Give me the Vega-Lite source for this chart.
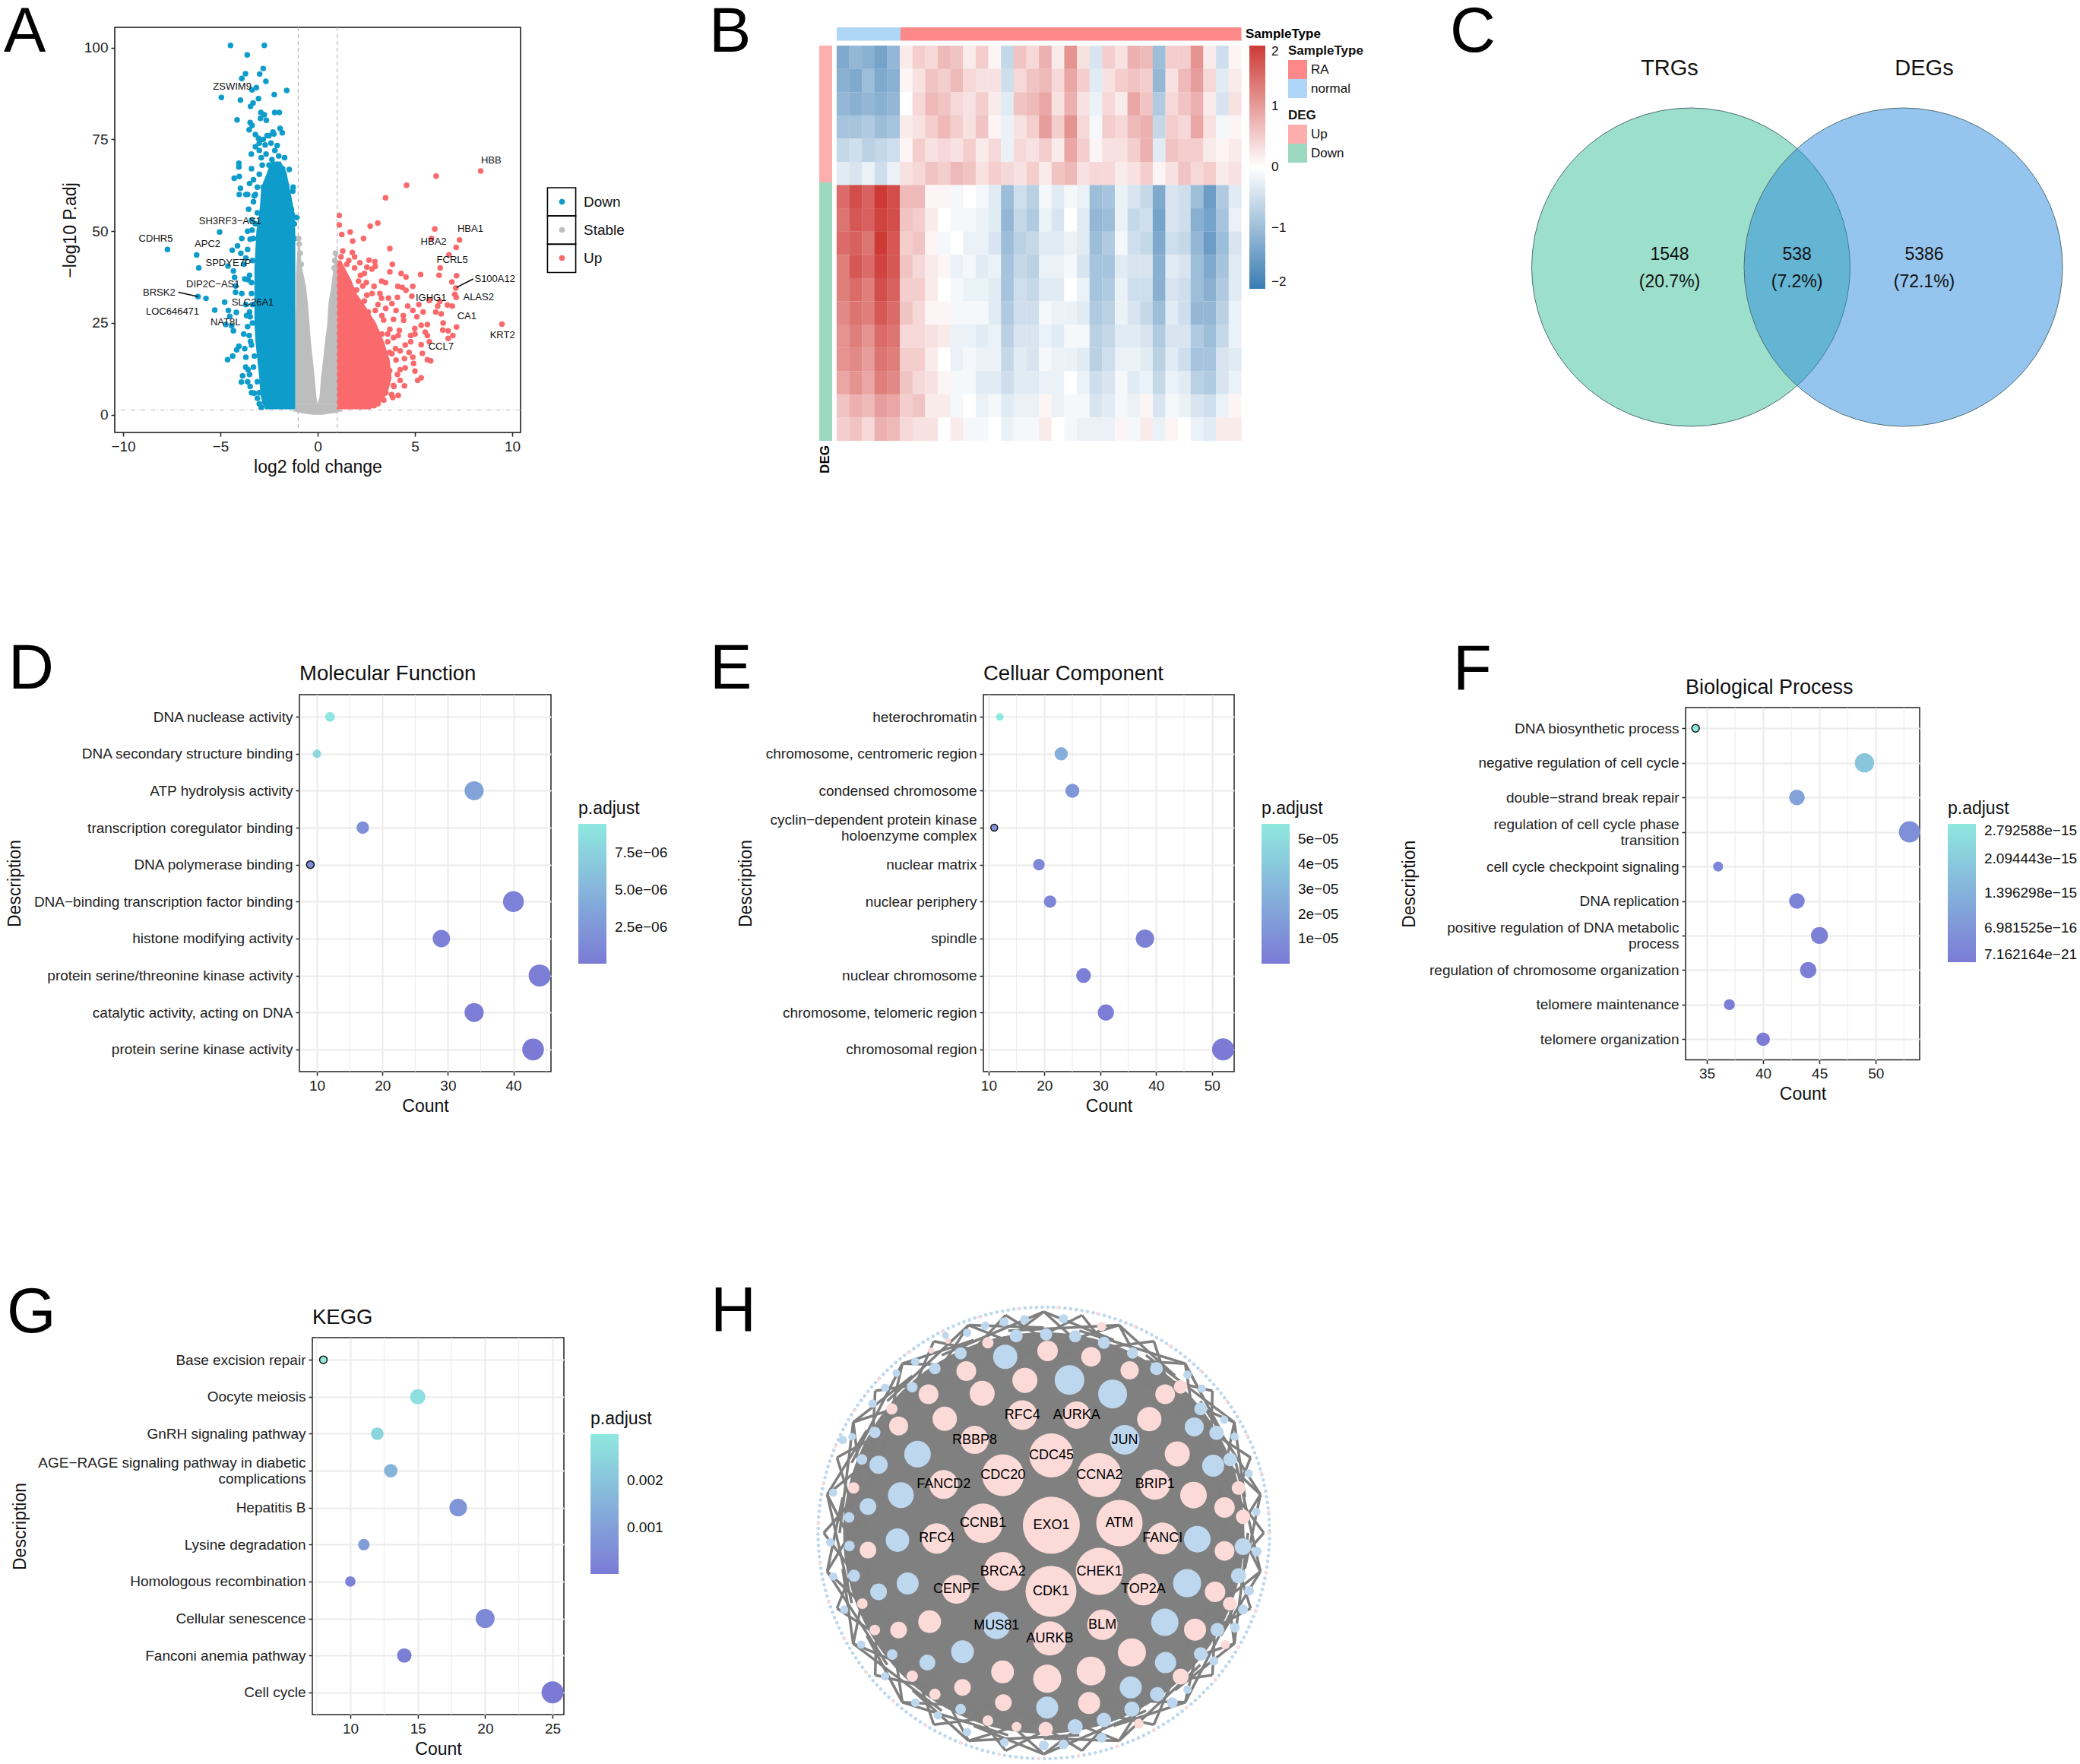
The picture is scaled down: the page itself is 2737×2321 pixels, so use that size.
{"$schema":"https://vega.github.io/schema/vega-lite/v6.json","background":"white","padding":0,"autosize":{"type":"pad"},"bounds":"flush","spacing":0,
"resolve":{"scale":{"color":"independent","size":"independent"},"legend":{"color":"independent","size":"independent"}},
"config":{"font":"Liberation Sans","view":{"stroke":null},"axis":{"domain":false,"grid":false,"tickColor":"#222","tickWidth":1.5,"tickSize":5,"labelColor":"#222","labelFontSize":19,"titleFontSize":23,"titleFontWeight":"normal","titleColor":"#111","labelPadding":4,"titlePadding":6,"labelLimit":700,"labelLineHeight":21},"legend":{"labelFontSize":19,"labelColor":"#111","titleFontSize":23,"titleFontWeight":"normal","titleColor":"#111"}},
"datasets":{"nodes":[
{"x":853,"y":440,"d":39,"g":"Up","t":"RFC4"},{"x":997,"y":440,"d":36,"g":"Up","t":"AURKA"},{"x":727,"y":520,"d":37,"g":"Up","t":"RBBP8"},{"x":1124,"y":520,"d":39,"g":"Down","t":"JUN"},{"x":930,"y":570,"d":58,"g":"Up","t":"CDC45"},{"x":802,"y":634,"d":55,"g":"Up","t":"CDC20"},{"x":1057,"y":634,"d":58,"g":"Up","t":"CCNA2"},{"x":645,"y":664,"d":38,"g":"Up","t":"FANCD2"},{"x":1204,"y":664,"d":40,"g":"Up","t":"BRIP1"},{"x":930,"y":795,"d":75,"g":"Up","t":"EXO1"},{"x":1110,"y":788,"d":61,"g":"Up","t":"ATM"},{"x":749,"y":789,"d":52,"g":"Up","t":"CCNB1"},{"x":627,"y":838,"d":40,"g":"Up","t":"RFC4"},{"x":1224,"y":838,"d":42,"g":"Up","t":"FANCI"},{"x":1057,"y":944,"d":62,"g":"Up","t":"CHEK1"},{"x":802,"y":944,"d":51,"g":"Up","t":"BRCA2"},{"x":929,"y":1008,"d":67,"g":"Up","t":"CDK1"},{"x":679,"y":1002,"d":38,"g":"Up","t":"CENPF"},{"x":1173,"y":1002,"d":42,"g":"Up","t":"TOP2A"},{"x":785,"y":1118,"d":36,"g":"Down","t":"MUS81"},{"x":1065,"y":1116,"d":40,"g":"Up","t":"BLM"},{"x":926,"y":1160,"d":45,"g":"Up","t":"AURKB"},
{"x":860,"y":328,"d":33,"g":"Up"},{"x":747,"y":370,"d":33,"g":"Up"},{"x":648,"y":452,"d":32,"g":"Up"},{"x":605,"y":373,"d":26,"g":"Up"},{"x":705,"y":298,"d":26,"g":"Up"},{"x":920,"y":233,"d":27,"g":"Up"},{"x":1035,"y":252,"d":26,"g":"Up"},{"x":1137,"y":296,"d":24,"g":"Up"},{"x":1231,"y":373,"d":26,"g":"Up"},{"x":1189,"y":453,"d":32,"g":"Up"},{"x":1263,"y":565,"d":33,"g":"Up"},{"x":1306,"y":698,"d":35,"g":"Up"},{"x":1388,"y":738,"d":27,"g":"Up"},{"x":1388,"y":878,"d":26,"g":"Up"},{"x":1363,"y":1010,"d":27,"g":"Up"},{"x":1310,"y":1132,"d":29,"g":"Up"},{"x":1143,"y":1205,"d":37,"g":"Up"},{"x":1035,"y":1265,"d":38,"g":"Up"},{"x":919,"y":1290,"d":37,"g":"Up"},{"x":801,"y":1268,"d":30,"g":"Up"},{"x":608,"y":1106,"d":30,"g":"Up"},{"x":526,"y":1133,"d":22,"g":"Up"},{"x":1030,"y":1368,"d":29,"g":"Up"},{"x":803,"y":1367,"d":22,"g":"Up"},{"x":695,"y":1318,"d":22,"g":"Up"},{"x":1272,"y":1283,"d":21,"g":"Up"},{"x":526,"y":475,"d":25,"g":"Up"},{"x":445,"y":875,"d":22,"g":"Up"},{"x":508,"y":420,"d":15,"g":"Up"},{"x":407,"y":675,"d":15,"g":"Up"},{"x":1272,"y":349,"d":18,"g":"Up"},{"x":1437,"y":768,"d":19,"g":"Up"},{"x":1425,"y":675,"d":18,"g":"Up"},{"x":1402,"y":1048,"d":18,"g":"Up"},{"x":1390,"y":1180,"d":12,"g":"Up"},{"x":1161,"y":1435,"d":13,"g":"Up"},{"x":915,"y":1452,"d":19,"g":"Up"},{"x":838,"y":1445,"d":13,"g":"Up"},{"x":762,"y":1425,"d":14,"g":"Up"},{"x":622,"y":1340,"d":15,"g":"Up"},{"x":562,"y":1282,"d":15,"g":"Up"},{"x":463,"y":1133,"d":14,"g":"Up"},{"x":430,"y":1048,"d":14,"g":"Up"},{"x":1063,"y":155,"d":12,"g":"Up"},{"x":762,"y":207,"d":15,"g":"Up"},{"x":612,"y":232,"d":8,"g":"Up"},{"x":656,"y":200,"d":8,"g":"Up"},
{"x":978,"y":327,"d":39,"g":"Down"},{"x":1092,"y":372,"d":38,"g":"Down"},{"x":808,"y":252,"d":32,"g":"Down"},{"x":1308,"y":478,"d":25,"g":"Down"},{"x":576,"y":566,"d":35,"g":"Down"},{"x":473,"y":600,"d":24,"g":"Down"},{"x":532,"y":698,"d":34,"g":"Down"},{"x":445,"y":735,"d":22,"g":"Down"},{"x":523,"y":843,"d":31,"g":"Down"},{"x":550,"y":983,"d":29,"g":"Down"},{"x":473,"y":1010,"d":22,"g":"Down"},{"x":395,"y":770,"d":14,"g":"Down"},{"x":396,"y":862,"d":14,"g":"Down"},{"x":408,"y":958,"d":16,"g":"Down"},{"x":695,"y":1203,"d":30,"g":"Down"},{"x":602,"y":1238,"d":21,"g":"Down"},{"x":509,"y":1212,"d":14,"g":"Down"},{"x":1316,"y":840,"d":35,"g":"Down"},{"x":1289,"y":982,"d":37,"g":"Down"},{"x":1230,"y":1108,"d":36,"g":"Down"},{"x":1232,"y":1238,"d":28,"g":"Down"},{"x":1140,"y":1318,"d":29,"g":"Down"},{"x":1210,"y":1340,"d":19,"g":"Down"},{"x":1143,"y":1388,"d":20,"g":"Down"},{"x":919,"y":1383,"d":29,"g":"Down"},{"x":993,"y":1445,"d":20,"g":"Down"},{"x":1069,"y":1423,"d":19,"g":"Down"},{"x":690,"y":1388,"d":14,"g":"Down"},{"x":837,"y":185,"d":17,"g":"Down"},{"x":916,"y":180,"d":16,"g":"Down"},{"x":859,"y":132,"d":12,"g":"Down"},{"x":962,"y":130,"d":12,"g":"Down"},{"x":993,"y":186,"d":16,"g":"Down"},{"x":1069,"y":207,"d":16,"g":"Down"},{"x":1145,"y":240,"d":15,"g":"Down"},{"x":1208,"y":290,"d":17,"g":"Down"},{"x":1325,"y":420,"d":17,"g":"Down"},{"x":1367,"y":497,"d":19,"g":"Down"},{"x":1358,"y":603,"d":29,"g":"Down"},{"x":1403,"y":583,"d":18,"g":"Down"},{"x":1437,"y":864,"d":22,"g":"Down"},{"x":1425,"y":958,"d":20,"g":"Down"},{"x":1369,"y":1132,"d":18,"g":"Down"},{"x":1325,"y":1210,"d":18,"g":"Down"},{"x":1250,"y":1367,"d":14,"g":"Down"},{"x":690,"y":241,"d":16,"g":"Down"},{"x":622,"y":290,"d":15,"g":"Down"},{"x":562,"y":350,"d":14,"g":"Down"},{"x":463,"y":496,"d":15,"g":"Down"},{"x":429,"y":583,"d":14,"g":"Down"},{"x":1473,"y":880,"d":13,"g":"Down"},{"x":1453,"y":1006,"d":13,"g":"Down"},{"x":1437,"y":1067,"d":13,"g":"Down"},{"x":1415,"y":1125,"d":13,"g":"Down"},{"x":1360,"y":1233,"d":12,"g":"Down"},{"x":1290,"y":1325,"d":11,"g":"Down"},{"x":1290,"y":310,"d":11,"g":"Down"},{"x":1328,"y":355,"d":11,"g":"Down"},{"x":1387,"y":455,"d":11,"g":"Down"},{"x":1415,"y":510,"d":11,"g":"Down"},{"x":1452,"y":628,"d":11,"g":"Down"},{"x":1472,"y":752,"d":11,"g":"Down"},{"x":1063,"y":1480,"d":13,"g":"Down"},{"x":910,"y":1505,"d":13,"g":"Down"},{"x":962,"y":1502,"d":13,"g":"Down"},{"x":806,"y":1495,"d":11,"g":"Down"},{"x":707,"y":1462,"d":11,"g":"Down"},{"x":630,"y":1408,"d":11,"g":"Down"},{"x":570,"y":1367,"d":11,"g":"Down"},{"x":490,"y":1282,"d":11,"g":"Down"},{"x":427,"y":1180,"d":11,"g":"Down"},{"x":382,"y":1067,"d":11,"g":"Down"},{"x":353,"y":960,"d":11,"g":"Down"},{"x":345,"y":850,"d":11,"g":"Down"},{"x":353,"y":690,"d":11,"g":"Down"},{"x":378,"y":520,"d":11,"g":"Down"},{"x":403,"y":510,"d":10,"g":"Down"},{"x":457,"y":403,"d":11,"g":"Down"},{"x":490,"y":352,"d":11,"g":"Down"},{"x":520,"y":305,"d":10,"g":"Down"},{"x":570,"y":268,"d":11,"g":"Down"},{"x":650,"y":183,"d":9,"g":"Down"},{"x":707,"y":175,"d":11,"g":"Down"},{"x":755,"y":152,"d":11,"g":"Down"},{"x":805,"y":140,"d":12,"g":"Down"}
]},
"vconcat":[
{"width":1,"height":35.5,"data":{"values":[{"a":0}]},"mark":{"type":"point","opacity":0,"size":0}},
{"bounds":"flush","spacing":0,"resolve":{"scale":{"color":"independent","size":"independent"},"legend":{"color":"independent","size":"independent"}},"hconcat":[
{"width":151,"height":1,"data":{"values":[{"a":0}]},"mark":{"type":"point","opacity":0,"size":0}},
{"width":534,"height":533,"view":{"stroke":"#111","strokeWidth":1.5},"layer":[
{"data":{"values":[{"x":-0.25,"x2":0.25,"y":0,"w":"b"},{"x":-0.85,"x2":0.85,"y":0.5,"w":"b"},{"x":-1.3,"x2":1.3,"y":1,"w":"b"},{"x":-1.15,"x2":1.15,"y":1.5,"w":"b"},{"x":-1.15,"x2":1.15,"y":3,"w":"b"},{"x":-1.15,"x2":0,"y":3,"w":"l"},{"x":-1.15,"x2":-0.07,"y":5,"w":"l"},{"x":-1.15,"x2":-0.15,"y":10,"w":"l"},{"x":-1.15,"x2":-0.25,"y":15,"w":"l"},{"x":-1.15,"x2":-0.35,"y":20,"w":"l"},{"x":-1.15,"x2":-0.42,"y":25,"w":"l"},{"x":-1.12,"x2":-0.5,"y":30,"w":"l"},{"x":-1.12,"x2":-0.6,"y":35,"w":"l"},{"x":-1.1,"x2":-0.8,"y":40,"w":"l"},{"x":-1.05,"x2":-0.88,"y":44,"w":"l"},{"x":-0.98,"x2":-0.93,"y":48,"w":"l"},{"x":0,"x2":1.15,"y":3,"w":"r"},{"x":0.1,"x2":1.15,"y":5,"w":"r"},{"x":0.17,"x2":1.1,"y":10,"w":"r"},{"x":0.28,"x2":1.1,"y":15,"w":"r"},{"x":0.38,"x2":1.1,"y":20,"w":"r"},{"x":0.5,"x2":1.1,"y":25,"w":"r"},{"x":0.55,"x2":1.1,"y":30,"w":"r"},{"x":0.7,"x2":1.1,"y":35,"w":"r"},{"x":0.82,"x2":1.05,"y":40,"w":"r"},{"x":0.9,"x2":0.97,"y":44,"w":"r"}]},"mark":{"type":"area","orient":"horizontal","color":"#BDBDBD","interpolate":"linear"},"encoding":{"x":{"field":"x","type":"quantitative","scale":{"domain":[-10.43,10.43],"nice":false,"zero":false},"axis":{"values":[-10,-5,0,5,10],"title":"log2 fold change"}},"x2":{"field":"x2"},"y":{"field":"y","type":"quantitative","scale":{"domain":[-4.8,105.5],"nice":false,"zero":false},"axis":{"values":[0,25,50,75,100],"title":"−log10 P.adj"}},"detail":{"field":"w"}}},
{"data":{"values":[{"x":-2.7,"x2":-1.15,"y":1.5},{"x":-2.85,"x2":-1.15,"y":3},{"x":-2.95,"x2":-1.15,"y":6},{"x":-3,"x2":-1.15,"y":10},{"x":-3.1,"x2":-1.15,"y":15},{"x":-3.2,"x2":-1.15,"y":20},{"x":-3.25,"x2":-1.15,"y":25},{"x":-3.25,"x2":-1.15,"y":30},{"x":-3.25,"x2":-1.15,"y":35},{"x":-3.25,"x2":-1.15,"y":40},{"x":-3.2,"x2":-1.15,"y":45},{"x":-3.15,"x2":-1.15,"y":50},{"x":-3,"x2":-1.2,"y":55},{"x":-2.95,"x2":-1.3,"y":58},{"x":-2.9,"x2":-1.45,"y":62},{"x":-2.6,"x2":-1.6,"y":66},{"x":-2.4,"x2":-1.9,"y":69}]},"mark":{"type":"area","orient":"horizontal","color":"#0E9CCB"},"encoding":{"x":{"field":"x","type":"quantitative"},"x2":{"field":"x2"},"y":{"field":"y","type":"quantitative"}}},
{"data":{"values":[{"x":0.98,"x2":2.7,"y":1.5},{"x":0.98,"x2":3.2,"y":3},{"x":0.98,"x2":3.6,"y":6},{"x":0.98,"x2":3.8,"y":10},{"x":0.98,"x2":3.7,"y":15},{"x":0.98,"x2":3.4,"y":20},{"x":0.98,"x2":3,"y":25},{"x":0.98,"x2":2.4,"y":30},{"x":0.98,"x2":2,"y":33},{"x":0.98,"x2":1.7,"y":37},{"x":0.98,"x2":1.4,"y":40},{"x":1,"x2":1.2,"y":42}]},"mark":{"type":"area","orient":"horizontal","color":"#FA6A6C"},"encoding":{"x":{"field":"x","type":"quantitative"},"x2":{"field":"x2"},"y":{"field":"y","type":"quantitative"}}},
{"data":{"values":[{"x":-4.48,"y":100.6,"g":"Down"},{"x":-2.74,"y":100.6,"g":"Down"},{"x":-3.62,"y":98,"g":"Down"},{"x":-2.8,"y":94.3,"g":"Down"},{"x":-3.71,"y":92.9,"g":"Down"},{"x":-2.98,"y":92.8,"g":"Down"},{"x":-3.9,"y":91.6,"g":"Down"},{"x":-2.66,"y":90.8,"g":"Down"},{"x":-3.15,"y":89.1,"g":"Down"},{"x":-3.37,"y":88.5,"g":"Down"},{"x":-1.59,"y":88.3,"g":"Down"},{"x":-2.23,"y":87.2,"g":"Down"},{"x":-4.95,"y":86.4,"g":"Down"},{"x":-3.04,"y":86.1,"g":"Down"},{"x":-3.97,"y":85.7,"g":"Down"},{"x":-3.32,"y":84.9,"g":"Down"},{"x":-3.45,"y":84,"g":"Down"},{"x":-2.21,"y":82.3,"g":"Down"},{"x":-1.97,"y":82.3,"g":"Down"},{"x":-2.92,"y":82.3,"g":"Down"},{"x":-2.74,"y":81.7,"g":"Down"},{"x":-2.94,"y":80.7,"g":"Down"},{"x":-2.64,"y":80.2,"g":"Down"},{"x":-4.14,"y":80.3,"g":"Down"},{"x":-3.47,"y":79.6,"g":"Down"},{"x":-3.37,"y":78.8,"g":"Down"},{"x":-3.52,"y":77.6,"g":"Down"},{"x":-1.93,"y":78,"g":"Down"},{"x":-1.82,"y":76.8,"g":"Down"},{"x":-2.25,"y":76.5,"g":"Down"},{"x":-3.2,"y":76.3,"g":"Down"},{"x":-2.6,"y":76,"g":"Down"},{"x":-3.04,"y":75.3,"g":"Down"},{"x":-2.08,"y":73.3,"g":"Down"},{"x":-3.41,"y":71,"g":"Down"},{"x":-4.05,"y":68.5,"g":"Down"},{"x":-4.05,"y":67.5,"g":"Down"},{"x":-1.46,"y":66.8,"g":"Down"},{"x":-4.29,"y":64.4,"g":"Down"},{"x":-4.03,"y":64.9,"g":"Down"},{"x":-3.97,"y":61.7,"g":"Down"},{"x":-1.26,"y":62,"g":"Down"},{"x":-1.28,"y":60.9,"g":"Down"},{"x":-4.03,"y":60,"g":"Down"},{"x":-3.69,"y":60,"g":"Down"},{"x":-3.26,"y":59.6,"g":"Down"},{"x":-1.07,"y":53.7,"g":"Down"},{"x":-5.04,"y":49.8,"g":"Down"},{"x":-7.72,"y":45,"g":"Down"},{"x":-6.22,"y":43.5,"g":"Down"},{"x":-6.11,"y":40,"g":"Down"},{"x":-4.39,"y":44.8,"g":"Down"},{"x":-4.12,"y":46,"g":"Down"},{"x":-3.9,"y":48,"g":"Down"},{"x":-4.61,"y":40.5,"g":"Down"},{"x":-4.33,"y":39.2,"g":"Down"},{"x":-4.27,"y":37.4,"g":"Down"},{"x":-6.15,"y":32.2,"g":"Down"},{"x":-5.74,"y":31.7,"g":"Down"},{"x":-4.78,"y":30.7,"g":"Down"},{"x":-5.29,"y":28.5,"g":"Down"},{"x":-4.59,"y":28.4,"g":"Down"},{"x":-4.18,"y":27.9,"g":"Down"},{"x":-4.52,"y":26.8,"g":"Down"},{"x":-4.72,"y":24.6,"g":"Down"},{"x":-4.42,"y":24.2,"g":"Down"},{"x":-4.33,"y":22.9,"g":"Down"},{"x":-4.22,"y":35.1,"g":"Down"},{"x":-4.22,"y":33.4,"g":"Down"},{"x":-4.63,"y":15,"g":"Down"},{"x":-4.37,"y":16,"g":"Down"},{"x":-4.16,"y":17.7,"g":"Down"},{"x":-4.05,"y":18.7,"g":"Down"},{"x":-3.86,"y":10.6,"g":"Down"},{"x":-3.92,"y":8.9,"g":"Down"},{"x":-3.26,"y":5.9,"g":"Down"},{"x":-3.47,"y":7.7,"g":"Down"},{"x":-3.69,"y":15.7,"g":"Down"},{"x":-3.58,"y":12.3,"g":"Down"},{"x":-3.52,"y":21.6,"g":"Down"},{"x":-3.47,"y":26.7,"g":"Down"},{"x":-3.69,"y":30,"g":"Down"},{"x":-3.58,"y":36.8,"g":"Down"},{"x":-3.69,"y":42.7,"g":"Down"},{"x":-3.47,"y":47.8,"g":"Down"},{"x":-3.37,"y":50.3,"g":"Down"},{"x":-3.2,"y":73,"g":"Down"},{"x":-3,"y":72,"g":"Down"},{"x":-2.7,"y":73.5,"g":"Down"},{"x":-2.4,"y":74,"g":"Down"},{"x":-2.2,"y":72,"g":"Down"},{"x":-2,"y":70.5,"g":"Down"},{"x":-1.7,"y":70,"g":"Down"},{"x":-2.9,"y":70,"g":"Down"},{"x":-2.5,"y":68,"g":"Down"},{"x":-3.4,"y":67,"g":"Down"},{"x":-2.1,"y":66,"g":"Down"},{"x":-1.8,"y":67,"g":"Down"},{"x":-3,"y":65.5,"g":"Down"},{"x":-2.4,"y":64,"g":"Down"},{"x":-3.3,"y":64,"g":"Down"},{"x":-1.9,"y":64,"g":"Down"},{"x":-1.6,"y":62.5,"g":"Down"},{"x":-3.5,"y":63,"g":"Down"},{"x":-2.8,"y":62,"g":"Down"},{"x":-2.2,"y":61.5,"g":"Down"},{"x":-1.8,"y":60,"g":"Down"},{"x":-2.8,"y":75,"g":"Down"},{"x":-3,"y":74,"g":"Down"},{"x":-2.5,"y":76,"g":"Down"},{"x":-2.3,"y":77,"g":"Down"},{"x":-2.65,"y":71,"g":"Down"},{"x":-2.35,"y":69.5,"g":"Down"},{"x":-2.85,"y":68,"g":"Down"},{"x":-1.5,"y":58,"g":"Down"},{"x":-1.35,"y":56,"g":"Down"},{"x":-1.2,"y":52,"g":"Down"},{"x":-1.3,"y":54.5,"g":"Down"},{"x":-1.2,"y":48,"g":"Down"},{"x":-3.3,"y":58,"g":"Down"},{"x":-3.1,"y":55,"g":"Down"},{"x":-3.4,"y":53,"g":"Down"},{"x":-3.6,"y":45,"g":"Down"},{"x":-3.8,"y":41,"g":"Down"},{"x":-3.5,"y":38,"g":"Down"},{"x":-3.4,"y":33,"g":"Down"},{"x":-3.5,"y":28,"g":"Down"},{"x":-3.6,"y":24,"g":"Down"},{"x":-3.4,"y":19,"g":"Down"},{"x":-3.3,"y":13,"g":"Down"},{"x":-3.1,"y":9,"g":"Down"},{"x":-3,"y":6,"g":"Down"},{"x":-3.5,"y":11,"g":"Down"},{"x":-3.4,"y":6,"g":"Down"},{"x":-3.6,"y":9,"g":"Down"},{"x":-3.7,"y":13,"g":"Down"},{"x":-3.75,"y":18,"g":"Down"},{"x":-3.8,"y":22,"g":"Down"},{"x":-3.65,"y":27,"g":"Down"},{"x":-3.9,"y":33,"g":"Down"},{"x":-3.75,"y":37,"g":"Down"},{"x":-3.95,"y":44,"g":"Down"},{"x":-3.6,"y":50,"g":"Down"},{"x":-3.55,"y":56,"g":"Down"},{"x":-3.6,"y":60,"g":"Down"},{"x":-3.45,"y":20,"g":"Down"},{"x":-3.35,"y":25,"g":"Down"},{"x":-3.35,"y":30,"g":"Down"},{"x":-3.4,"y":36,"g":"Down"},{"x":-3.35,"y":42,"g":"Down"},{"x":-3.3,"y":48,"g":"Down"},{"x":-3.2,"y":52,"g":"Down"},{"x":-3.2,"y":60,"g":"Down"},{"x":-3.1,"y":62,"g":"Down"},{"x":-3,"y":3,"g":"Down"},{"x":-3.1,"y":4.5,"g":"Down"},{"x":-2.9,"y":2,"g":"Down"},{"x":-3.25,"y":16,"g":"Down"},
{"x":-0.98,"y":48,"g":"Stable"},{"x":-0.95,"y":46.5,"g":"Stable"},{"x":-0.9,"y":44,"g":"Stable"},{"x":0.92,"y":44,"g":"Stable"},{"x":0.88,"y":42,"g":"Stable"},{"x":-0.85,"y":41,"g":"Stable"},{"x":0.85,"y":40,"g":"Stable"},
{"x":8.38,"y":66.4,"g":"Up"},{"x":6.09,"y":65,"g":"Up"},{"x":4.57,"y":62.5,"g":"Up"},{"x":3.49,"y":59.1,"g":"Up"},{"x":3.09,"y":52.2,"g":"Up"},{"x":2.7,"y":51.4,"g":"Up"},{"x":1.11,"y":54.3,"g":"Up"},{"x":1.11,"y":51.7,"g":"Up"},{"x":6.02,"y":50.6,"g":"Up"},{"x":1.67,"y":49.8,"g":"Up"},{"x":1.24,"y":49.1,"g":"Up"},{"x":2.36,"y":48,"g":"Up"},{"x":1.8,"y":47.3,"g":"Up"},{"x":5.85,"y":48,"g":"Up"},{"x":7.29,"y":47.6,"g":"Up"},{"x":7.12,"y":45.6,"g":"Up"},{"x":3.71,"y":45.3,"g":"Up"},{"x":6.75,"y":43.6,"g":"Up"},{"x":1.78,"y":44.2,"g":"Up"},{"x":1.29,"y":44.6,"g":"Up"},{"x":2.64,"y":42.1,"g":"Up"},{"x":2.94,"y":41.7,"g":"Up"},{"x":2.17,"y":41.4,"g":"Up"},{"x":3.84,"y":41,"g":"Up"},{"x":2.96,"y":40.4,"g":"Up"},{"x":2.53,"y":40.2,"g":"Up"},{"x":2.79,"y":39.7,"g":"Up"},{"x":6.3,"y":40,"g":"Up"},{"x":3.71,"y":38.9,"g":"Up"},{"x":4.29,"y":38.5,"g":"Up"},{"x":5.29,"y":38.2,"g":"Up"},{"x":4.54,"y":37.5,"g":"Up"},{"x":6.24,"y":38,"g":"Up"},{"x":7.14,"y":37.9,"g":"Up"},{"x":3.28,"y":36.4,"g":"Up"},{"x":3.49,"y":36,"g":"Up"},{"x":6.9,"y":36.2,"g":"Up"},{"x":4.12,"y":35,"g":"Up"},{"x":4.89,"y":35,"g":"Up"},{"x":4.35,"y":34.7,"g":"Up"},{"x":4.54,"y":33.9,"g":"Up"},{"x":7.1,"y":34.5,"g":"Up"},{"x":7.05,"y":32.8,"g":"Up"},{"x":7.12,"y":32,"g":"Up"},{"x":4.84,"y":32.3,"g":"Up"},{"x":3.64,"y":31.8,"g":"Up"},{"x":5.74,"y":31.1,"g":"Up"},{"x":6.28,"y":30.9,"g":"Up"},{"x":6.67,"y":29.9,"g":"Up"},{"x":6.92,"y":29.6,"g":"Up"},{"x":6.17,"y":29.6,"g":"Up"},{"x":3.82,"y":30.3,"g":"Up"},{"x":4.63,"y":29.6,"g":"Up"},{"x":6.07,"y":28,"g":"Up"},{"x":6.35,"y":27.5,"g":"Up"},{"x":5.42,"y":28,"g":"Up"},{"x":4.89,"y":28.4,"g":"Up"},{"x":4.42,"y":25.7,"g":"Up"},{"x":5.1,"y":26.7,"g":"Up"},{"x":9.47,"y":24.7,"g":"Up"},{"x":6.45,"y":25,"g":"Up"},{"x":7.14,"y":23.9,"g":"Up"},{"x":5.32,"y":24.4,"g":"Up"},{"x":4.99,"y":23.5,"g":"Up"},{"x":5.64,"y":24.6,"g":"Up"},{"x":6.43,"y":23.1,"g":"Up"},{"x":6.71,"y":22.9,"g":"Up"},{"x":5.53,"y":22.5,"g":"Up"},{"x":6.95,"y":21.6,"g":"Up"},{"x":6.71,"y":20.8,"g":"Up"},{"x":4.78,"y":21.6,"g":"Up"},{"x":4.14,"y":21.6,"g":"Up"},{"x":5.64,"y":21.6,"g":"Up"},{"x":5.74,"y":19.9,"g":"Up"},{"x":4.78,"y":19.9,"g":"Up"},{"x":5.32,"y":19.1,"g":"Up"},{"x":4.24,"y":17.4,"g":"Up"},{"x":5.38,"y":16.7,"g":"Up"},{"x":4.89,"y":15.7,"g":"Up"},{"x":5.64,"y":15,"g":"Up"},{"x":5.81,"y":14.7,"g":"Up"},{"x":4.03,"y":14.9,"g":"Up"},{"x":4.46,"y":15.3,"g":"Up"},{"x":4.93,"y":14,"g":"Up"},{"x":3.82,"y":16.6,"g":"Up"},{"x":4.5,"y":12.8,"g":"Up"},{"x":5,"y":11.9,"g":"Up"},{"x":4.24,"y":12.3,"g":"Up"},{"x":5.32,"y":10.1,"g":"Up"},{"x":5.14,"y":9.4,"g":"Up"},{"x":4.24,"y":9.4,"g":"Up"},{"x":4.46,"y":7.9,"g":"Up"},{"x":3.92,"y":7.7,"g":"Up"},{"x":4.14,"y":5.3,"g":"Up"},{"x":3.86,"y":4.7,"g":"Up"},{"x":2.96,"y":28.4,"g":"Up"},{"x":3.39,"y":25.8,"g":"Up"},{"x":3.71,"y":23.3,"g":"Up"},{"x":3.6,"y":19.9,"g":"Up"},{"x":4.03,"y":28.4,"g":"Up"},{"x":3.28,"y":31.8,"g":"Up"},{"x":2.32,"y":35.1,"g":"Up"},{"x":2.53,"y":32.6,"g":"Up"},{"x":2.1,"y":36.4,"g":"Up"},{"x":3.9,"y":8,"g":"Up"},{"x":3.7,"y":12,"g":"Up"},{"x":4,"y":18,"g":"Up"},{"x":3.6,"y":22,"g":"Up"},{"x":3.3,"y":27,"g":"Up"},{"x":3.1,"y":30,"g":"Up"},{"x":2.8,"y":33,"g":"Up"},{"x":2.5,"y":36,"g":"Up"},{"x":2.2,"y":38,"g":"Up"},{"x":1.9,"y":40,"g":"Up"},{"x":1.6,"y":42,"g":"Up"},{"x":3.5,"y":14,"g":"Up"},{"x":4.1,"y":11,"g":"Up"},{"x":3.4,"y":4,"g":"Up"},{"x":3.1,"y":3,"g":"Up"},{"x":2.9,"y":2.5,"g":"Up"},{"x":4.5,"y":19,"g":"Up"},{"x":4.2,"y":23,"g":"Up"},{"x":3.9,"y":26,"g":"Up"},{"x":3.5,"y":29,"g":"Up"},{"x":3.2,"y":33,"g":"Up"},{"x":2.9,"y":35,"g":"Up"},{"x":2.4,"y":38.5,"g":"Up"},{"x":1.5,"y":41,"g":"Up"},{"x":1.2,"y":43,"g":"Up"},{"x":1.9,"y":43,"g":"Up"},{"x":4.7,"y":17,"g":"Up"},{"x":5,"y":22,"g":"Up"},{"x":4.4,"y":27,"g":"Up"},{"x":5.2,"y":30,"g":"Up"},{"x":4.1,"y":32,"g":"Up"},{"x":3.9,"y":21,"g":"Up"},{"x":3.7,"y":17,"g":"Up"},{"x":3.3,"y":22,"g":"Up"},{"x":3.5,"y":6,"g":"Up"},{"x":3.8,"y":5.5,"g":"Up"},{"x":3.1,"y":6.5,"g":"Up"},{"x":2.6,"y":28,"g":"Up"},{"x":2.4,"y":31,"g":"Up"},{"x":2,"y":34,"g":"Up"}]},"mark":{"type":"point","filled":true,"size":56,"opacity":1},"encoding":{"x":{"field":"x","type":"quantitative"},"y":{"field":"y","type":"quantitative"},"color":{"field":"g","type":"nominal","scale":{"domain":["Down","Stable","Up"],"range":["#0E9CCB","#BDBDBD","#FA6A6C"]},"legend":{"title":null,"orient":"none","legendX":579,"legendY":220,"symbolSize":56,"symbolType":"circle","labelOffset":19,"rowPadding":17,"labelFontSize":19}}}},
{"data":{"values":[{"v":-1},{"v":1}]},"mark":{"type":"rule","color":"#BBBBBB","strokeDash":[5,4],"strokeWidth":1.2},"encoding":{"x":{"field":"v","type":"quantitative"}}},
{"data":{"values":[{"v":1.3}]},"mark":{"type":"rule","color":"#BBBBBB","strokeDash":[6,3,1,3],"strokeWidth":1.2},"encoding":{"y":{"field":"v","type":"quantitative"}}},
{"data":{"values":[{"x":-7.16,"y":33.4,"x2":-6.15,"y2":32.2},{"x":8,"y":37,"x2":7.14,"y2":34.7}]},"mark":{"type":"rule","color":"#000","strokeWidth":1.5},"encoding":{"x":{"field":"x","type":"quantitative"},"y":{"field":"y","type":"quantitative"},"x2":{"field":"x2"},"y2":{"field":"y2"}}},
{"data":{"values":[{"x":-4.39,"y":89.4,"t":"ZSWIM9"},{"x":-4.5,"y":52.8,"t":"SH3RF3−AS1"},{"x":-8.32,"y":48,"t":"CDHR5"},{"x":-5.66,"y":46.5,"t":"APC2"},{"x":-4.59,"y":41.4,"t":"SPDYE7P"},{"x":-5.38,"y":35.6,"t":"DIP2C−AS1"},{"x":-8.15,"y":33.3,"t":"BRSK2"},{"x":-3.34,"y":30.6,"t":"SLC26A1"},{"x":-7.46,"y":28.2,"t":"LOC646471"},{"x":-4.74,"y":25.3,"t":"NAT8L"},{"x":8.92,"y":69.3,"t":"HBB"},{"x":7.85,"y":50.6,"t":"HBA1"},{"x":5.96,"y":47.2,"t":"HBA2"},{"x":6.92,"y":42.1,"t":"FCRL5"},{"x":9.11,"y":37.1,"t":"S100A12"},{"x":8.27,"y":32,"t":"ALAS2"},{"x":5.83,"y":31.9,"t":"IGHG1"},{"x":7.67,"y":26.9,"t":"CA1"},{"x":9.5,"y":21.6,"t":"KRT2"},{"x":6.34,"y":18.5,"t":"CCL7"}]},"mark":{"type":"text","fontSize":13,"color":"#111","baseline":"middle"},"encoding":{"x":{"field":"x","type":"quantitative"},"y":{"field":"y","type":"quantitative"},"text":{"field":"t"}}},
{"data":{"values":[{"x":12.54,"y":58},{"x":12.54,"y":50.3},{"x":12.54,"y":42.6}]},"mark":{"type":"point","shape":"square","size":1380,"filled":false,"stroke":"#000","strokeWidth":1.6,"opacity":1},"encoding":{"x":{"field":"x","type":"quantitative"},"y":{"field":"y","type":"quantitative"}}},
{"data":{"values":[{"x":-10.43,"y":105.5,"t":"A"}]},"mark":{"type":"text","fontSize":83,"align":"left","baseline":"alphabetic","dx":-146,"dy":31.5,"color":"#000"},"encoding":{"x":{"field":"x","type":"quantitative"},"y":{"field":"y","type":"quantitative"},"text":{"field":"t"}}}
]},
{"width":393,"height":1,"data":{"values":[{"a":0}]},"mark":{"type":"point","opacity":0,"size":0}},
{"width":555.5,"height":544,"resolve":{"scale":{"color":"independent"},"legend":{"color":"independent"}},"layer":[
{"data":{"values":[
{"c":1,"r":1,"v":-1.3},{"c":2,"r":1,"v":-1.1},{"c":3,"r":1,"v":-1.2},{"c":4,"r":1,"v":-1.4},{"c":5,"r":1,"v":-1.1},{"c":6,"r":1,"v":0.2},{"c":7,"r":1,"v":0.5},{"c":8,"r":1,"v":0.4},{"c":9,"r":1,"v":0.7},{"c":10,"r":1,"v":0.6},{"c":11,"r":1,"v":0.2},{"c":12,"r":1,"v":0.5},{"c":13,"r":1,"v":0.1},{"c":14,"r":1,"v":-0.6},{"c":15,"r":1,"v":0.6},{"c":16,"r":1,"v":0.4},{"c":17,"r":1,"v":0.8},{"c":18,"r":1,"v":0.2},{"c":19,"r":1,"v":1.1},{"c":20,"r":1,"v":0.3},{"c":21,"r":1,"v":-0.4},{"c":22,"r":1,"v":0.5},{"c":23,"r":1,"v":0.3},{"c":24,"r":1,"v":0.8},{"c":25,"r":1,"v":0.7},{"c":26,"r":1,"v":-1},{"c":27,"r":1,"v":0.5},{"c":28,"r":1,"v":0.5},{"c":29,"r":1,"v":1.1},{"c":30,"r":1,"v":0.2},{"c":31,"r":1,"v":-0.5},{"c":32,"r":1,"v":0.1},
{"c":1,"r":2,"v":-1.2},{"c":2,"r":2,"v":-1.3},{"c":3,"r":2,"v":-1},{"c":4,"r":2,"v":-1.3},{"c":5,"r":2,"v":-1.2},{"c":6,"r":2,"v":0.1},{"c":7,"r":2,"v":0.3},{"c":8,"r":2,"v":0.6},{"c":9,"r":2,"v":0.5},{"c":10,"r":2,"v":0.7},{"c":11,"r":2,"v":0.4},{"c":12,"r":2,"v":0.3},{"c":13,"r":2,"v":0.3},{"c":14,"r":2,"v":-0.5},{"c":15,"r":2,"v":0.4},{"c":16,"r":2,"v":0.6},{"c":17,"r":2,"v":0.7},{"c":18,"r":2,"v":0.4},{"c":19,"r":2,"v":0.9},{"c":20,"r":2,"v":0.5},{"c":21,"r":2,"v":-0.3},{"c":22,"r":2,"v":0.3},{"c":23,"r":2,"v":0.5},{"c":24,"r":2,"v":0.6},{"c":25,"r":2,"v":0.5},{"c":26,"r":2,"v":-1.1},{"c":27,"r":2,"v":0.3},{"c":28,"r":2,"v":0.7},{"c":29,"r":2,"v":1},{"c":30,"r":2,"v":0.4},{"c":31,"r":2,"v":-0.3},{"c":32,"r":2,"v":0.2},
{"c":1,"r":3,"v":-1.1},{"c":2,"r":3,"v":-1.2},{"c":3,"r":3,"v":-1.1},{"c":4,"r":3,"v":-1.2},{"c":5,"r":3,"v":-1.1},{"c":6,"r":3,"v":0},{"c":7,"r":3,"v":0.4},{"c":8,"r":3,"v":0.7},{"c":9,"r":3,"v":0.6},{"c":10,"r":3,"v":0.4},{"c":11,"r":3,"v":0.3},{"c":12,"r":3,"v":0.5},{"c":13,"r":3,"v":0.2},{"c":14,"r":3,"v":-0.3},{"c":15,"r":3,"v":0.6},{"c":16,"r":3,"v":0.7},{"c":17,"r":3,"v":0.9},{"c":18,"r":3,"v":0.3},{"c":19,"r":3,"v":0.8},{"c":20,"r":3,"v":0.3},{"c":21,"r":3,"v":-0.2},{"c":22,"r":3,"v":0.4},{"c":23,"r":3,"v":0.2},{"c":24,"r":3,"v":0.9},{"c":25,"r":3,"v":0.6},{"c":26,"r":3,"v":-0.8},{"c":27,"r":3,"v":0.4},{"c":28,"r":3,"v":0.6},{"c":29,"r":3,"v":0.8},{"c":30,"r":3,"v":0.2},{"c":31,"r":3,"v":-0.4},{"c":32,"r":3,"v":0.3},
{"c":1,"r":4,"v":-0.9},{"c":2,"r":4,"v":-0.9},{"c":3,"r":4,"v":-0.8},{"c":4,"r":4,"v":-1},{"c":5,"r":4,"v":-0.9},{"c":6,"r":4,"v":0.2},{"c":7,"r":4,"v":0.3},{"c":8,"r":4,"v":0.5},{"c":9,"r":4,"v":0.7},{"c":10,"r":4,"v":0.5},{"c":11,"r":4,"v":0.3},{"c":12,"r":4,"v":0.6},{"c":13,"r":4,"v":0.1},{"c":14,"r":4,"v":-0.2},{"c":15,"r":4,"v":0.3},{"c":16,"r":4,"v":0.5},{"c":17,"r":4,"v":1},{"c":18,"r":4,"v":0.5},{"c":19,"r":4,"v":1.1},{"c":20,"r":4,"v":0.4},{"c":21,"r":4,"v":-0.1},{"c":22,"r":4,"v":0.5},{"c":23,"r":4,"v":0.4},{"c":24,"r":4,"v":0.7},{"c":25,"r":4,"v":0.8},{"c":26,"r":4,"v":-0.6},{"c":27,"r":4,"v":0.5},{"c":28,"r":4,"v":0.4},{"c":29,"r":4,"v":0.9},{"c":30,"r":4,"v":0.3},{"c":31,"r":4,"v":-0.1},{"c":32,"r":4,"v":0.1},
{"c":1,"r":5,"v":-0.6},{"c":2,"r":5,"v":-0.5},{"c":3,"r":5,"v":-0.7},{"c":4,"r":5,"v":-0.6},{"c":5,"r":5,"v":-0.5},{"c":6,"r":5,"v":0.1},{"c":7,"r":5,"v":0.5},{"c":8,"r":5,"v":0.3},{"c":9,"r":5,"v":0.4},{"c":10,"r":5,"v":0.3},{"c":11,"r":5,"v":0.5},{"c":12,"r":5,"v":0.2},{"c":13,"r":5,"v":0.4},{"c":14,"r":5,"v":-0.2},{"c":15,"r":5,"v":0.4},{"c":16,"r":5,"v":0.3},{"c":17,"r":5,"v":0.5},{"c":18,"r":5,"v":0.2},{"c":19,"r":5,"v":0.9},{"c":20,"r":5,"v":0.5},{"c":21,"r":5,"v":0.1},{"c":22,"r":5,"v":0.3},{"c":23,"r":5,"v":0.3},{"c":24,"r":5,"v":0.5},{"c":25,"r":5,"v":0.8},{"c":26,"r":5,"v":-0.3},{"c":27,"r":5,"v":0.6},{"c":28,"r":5,"v":0.5},{"c":29,"r":5,"v":0.5},{"c":30,"r":5,"v":0.2},{"c":31,"r":5,"v":0.1},{"c":32,"r":5,"v":0.2},
{"c":1,"r":6,"v":-0.3},{"c":2,"r":6,"v":-0.4},{"c":3,"r":6,"v":-0.2},{"c":4,"r":6,"v":-0.5},{"c":5,"r":6,"v":-0.2},{"c":6,"r":6,"v":0.3},{"c":7,"r":6,"v":0.4},{"c":8,"r":6,"v":0.6},{"c":9,"r":6,"v":0.5},{"c":10,"r":6,"v":0.7},{"c":11,"r":6,"v":0.6},{"c":12,"r":6,"v":0.3},{"c":13,"r":6,"v":0.5},{"c":14,"r":6,"v":0.4},{"c":15,"r":6,"v":0.3},{"c":16,"r":6,"v":0.5},{"c":17,"r":6,"v":0.2},{"c":18,"r":6,"v":0.6},{"c":19,"r":6,"v":0.7},{"c":20,"r":6,"v":0.3},{"c":21,"r":6,"v":0.4},{"c":22,"r":6,"v":0.4},{"c":23,"r":6,"v":0.2},{"c":24,"r":6,"v":0.3},{"c":25,"r":6,"v":0.5},{"c":26,"r":6,"v":0.1},{"c":27,"r":6,"v":0.3},{"c":28,"r":6,"v":0.6},{"c":29,"r":6,"v":0.4},{"c":30,"r":6,"v":0.5},{"c":31,"r":6,"v":0.2},{"c":32,"r":6,"v":0.3},
{"c":1,"r":7,"v":1.5},{"c":2,"r":7,"v":1.8},{"c":3,"r":7,"v":1.6},{"c":4,"r":7,"v":2},{"c":5,"r":7,"v":1.8},{"c":6,"r":7,"v":0.7},{"c":7,"r":7,"v":0.7},{"c":8,"r":7,"v":0.1},{"c":9,"r":7,"v":0.1},{"c":10,"r":7,"v":-0.1},{"c":11,"r":7,"v":0},{"c":12,"r":7,"v":-0.1},{"c":13,"r":7,"v":-0.3},{"c":14,"r":7,"v":-1},{"c":15,"r":7,"v":-0.5},{"c":16,"r":7,"v":-0.7},{"c":17,"r":7,"v":-0.1},{"c":18,"r":7,"v":-0.3},{"c":19,"r":7,"v":-0.1},{"c":20,"r":7,"v":-0.2},{"c":21,"r":7,"v":-1},{"c":22,"r":7,"v":-0.9},{"c":23,"r":7,"v":-0.2},{"c":24,"r":7,"v":-0.4},{"c":25,"r":7,"v":-0.6},{"c":26,"r":7,"v":-1.3},{"c":27,"r":7,"v":-0.4},{"c":28,"r":7,"v":-0.5},{"c":29,"r":7,"v":-1},{"c":30,"r":7,"v":-1.5},{"c":31,"r":7,"v":-0.8},{"c":32,"r":7,"v":-0.3},
{"c":1,"r":8,"v":1.4},{"c":2,"r":8,"v":1.7},{"c":3,"r":8,"v":1.6},{"c":4,"r":8,"v":1.9},{"c":5,"r":8,"v":1.8},{"c":6,"r":8,"v":0.6},{"c":7,"r":8,"v":0.5},{"c":8,"r":8,"v":0.2},{"c":9,"r":8,"v":0},{"c":10,"r":8,"v":-0.1},{"c":11,"r":8,"v":-0.1},{"c":12,"r":8,"v":-0.2},{"c":13,"r":8,"v":-0.3},{"c":14,"r":8,"v":-1.1},{"c":15,"r":8,"v":-0.6},{"c":16,"r":8,"v":-0.8},{"c":17,"r":8,"v":-0.2},{"c":18,"r":8,"v":-0.4},{"c":19,"r":8,"v":0},{"c":20,"r":8,"v":-0.3},{"c":21,"r":8,"v":-1.1},{"c":22,"r":8,"v":-1},{"c":23,"r":8,"v":-0.2},{"c":24,"r":8,"v":-0.6},{"c":25,"r":8,"v":-0.5},{"c":26,"r":8,"v":-1.4},{"c":27,"r":8,"v":-0.4},{"c":28,"r":8,"v":-0.5},{"c":29,"r":8,"v":-1.2},{"c":30,"r":8,"v":-1.4},{"c":31,"r":8,"v":-0.9},{"c":32,"r":8,"v":-0.2},
{"c":1,"r":9,"v":1.5},{"c":2,"r":9,"v":1.6},{"c":3,"r":9,"v":1.4},{"c":4,"r":9,"v":2},{"c":5,"r":9,"v":1.7},{"c":6,"r":9,"v":0.5},{"c":7,"r":9,"v":0.6},{"c":8,"r":9,"v":0.1},{"c":9,"r":9,"v":-0.1},{"c":10,"r":9,"v":0},{"c":11,"r":9,"v":-0.2},{"c":12,"r":9,"v":-0.2},{"c":13,"r":9,"v":-0.4},{"c":14,"r":9,"v":-1},{"c":15,"r":9,"v":-0.7},{"c":16,"r":9,"v":-0.6},{"c":17,"r":9,"v":-0.3},{"c":18,"r":9,"v":-0.3},{"c":19,"r":9,"v":-0.2},{"c":20,"r":9,"v":-0.3},{"c":21,"r":9,"v":-1},{"c":22,"r":9,"v":-0.8},{"c":23,"r":9,"v":-0.1},{"c":24,"r":9,"v":-0.5},{"c":25,"r":9,"v":-0.6},{"c":26,"r":9,"v":-1.3},{"c":27,"r":9,"v":-0.5},{"c":28,"r":9,"v":-0.6},{"c":29,"r":9,"v":-1.1},{"c":30,"r":9,"v":-1.5},{"c":31,"r":9,"v":-1},{"c":32,"r":9,"v":-0.4},
{"c":1,"r":10,"v":1.3},{"c":2,"r":10,"v":1.7},{"c":3,"r":10,"v":1.5},{"c":4,"r":10,"v":1.9},{"c":5,"r":10,"v":1.7},{"c":6,"r":10,"v":0.6},{"c":7,"r":10,"v":0.4},{"c":8,"r":10,"v":0.2},{"c":9,"r":10,"v":0.1},{"c":10,"r":10,"v":-0.2},{"c":11,"r":10,"v":-0.1},{"c":12,"r":10,"v":-0.3},{"c":13,"r":10,"v":-0.2},{"c":14,"r":10,"v":-0.9},{"c":15,"r":10,"v":-0.6},{"c":16,"r":10,"v":-0.7},{"c":17,"r":10,"v":-0.2},{"c":18,"r":10,"v":-0.2},{"c":19,"r":10,"v":-0.1},{"c":20,"r":10,"v":-0.4},{"c":21,"r":10,"v":-0.9},{"c":22,"r":10,"v":-0.9},{"c":23,"r":10,"v":-0.3},{"c":24,"r":10,"v":-0.4},{"c":25,"r":10,"v":-0.4},{"c":26,"r":10,"v":-1.2},{"c":27,"r":10,"v":-0.3},{"c":28,"r":10,"v":-0.4},{"c":29,"r":10,"v":-1},{"c":30,"r":10,"v":-1.3},{"c":31,"r":10,"v":-0.9},{"c":32,"r":10,"v":-0.3},
{"c":1,"r":11,"v":1.3},{"c":2,"r":11,"v":1.5},{"c":3,"r":11,"v":1.3},{"c":4,"r":11,"v":1.8},{"c":5,"r":11,"v":1.6},{"c":6,"r":11,"v":0.5},{"c":7,"r":11,"v":0.5},{"c":8,"r":11,"v":0.2},{"c":9,"r":11,"v":0},{"c":10,"r":11,"v":-0.1},{"c":11,"r":11,"v":-0.2},{"c":12,"r":11,"v":-0.2},{"c":13,"r":11,"v":-0.3},{"c":14,"r":11,"v":-0.9},{"c":15,"r":11,"v":-0.5},{"c":16,"r":11,"v":-0.6},{"c":17,"r":11,"v":-0.3},{"c":18,"r":11,"v":-0.3},{"c":19,"r":11,"v":0},{"c":20,"r":11,"v":-0.2},{"c":21,"r":11,"v":-0.9},{"c":22,"r":11,"v":-0.8},{"c":23,"r":11,"v":-0.2},{"c":24,"r":11,"v":-0.5},{"c":25,"r":11,"v":-0.5},{"c":26,"r":11,"v":-1.2},{"c":27,"r":11,"v":-0.4},{"c":28,"r":11,"v":-0.5},{"c":29,"r":11,"v":-1},{"c":30,"r":11,"v":-1.2},{"c":31,"r":11,"v":-0.8},{"c":32,"r":11,"v":-0.3},
{"c":1,"r":12,"v":1.2},{"c":2,"r":12,"v":1.4},{"c":3,"r":12,"v":1.3},{"c":4,"r":12,"v":1.7},{"c":5,"r":12,"v":1.5},{"c":6,"r":12,"v":0.6},{"c":7,"r":12,"v":0.4},{"c":8,"r":12,"v":0.1},{"c":9,"r":12,"v":0.1},{"c":10,"r":12,"v":-0.1},{"c":11,"r":12,"v":-0.1},{"c":12,"r":12,"v":-0.1},{"c":13,"r":12,"v":-0.3},{"c":14,"r":12,"v":-0.8},{"c":15,"r":12,"v":-0.5},{"c":16,"r":12,"v":-0.5},{"c":17,"r":12,"v":-0.1},{"c":18,"r":12,"v":-0.2},{"c":19,"r":12,"v":-0.2},{"c":20,"r":12,"v":-0.3},{"c":21,"r":12,"v":-0.8},{"c":22,"r":12,"v":-0.7},{"c":23,"r":12,"v":-0.2},{"c":24,"r":12,"v":-0.4},{"c":25,"r":12,"v":-0.6},{"c":26,"r":12,"v":-1},{"c":27,"r":12,"v":-0.3},{"c":28,"r":12,"v":-0.5},{"c":29,"r":12,"v":-1.1},{"c":30,"r":12,"v":-1.1},{"c":31,"r":12,"v":-0.7},{"c":32,"r":12,"v":-0.2},
{"c":1,"r":13,"v":1.1},{"c":2,"r":13,"v":1.3},{"c":3,"r":13,"v":1.1},{"c":4,"r":13,"v":1.5},{"c":5,"r":13,"v":1.4},{"c":6,"r":13,"v":0.4},{"c":7,"r":13,"v":0.4},{"c":8,"r":13,"v":0.3},{"c":9,"r":13,"v":0.2},{"c":10,"r":13,"v":-0.2},{"c":11,"r":13,"v":-0.2},{"c":12,"r":13,"v":-0.3},{"c":13,"r":13,"v":-0.2},{"c":14,"r":13,"v":-0.7},{"c":15,"r":13,"v":-0.4},{"c":16,"r":13,"v":-0.4},{"c":17,"r":13,"v":-0.2},{"c":18,"r":13,"v":-0.3},{"c":19,"r":13,"v":-0.1},{"c":20,"r":13,"v":-0.1},{"c":21,"r":13,"v":-0.7},{"c":22,"r":13,"v":-0.6},{"c":23,"r":13,"v":-0.3},{"c":24,"r":13,"v":-0.3},{"c":25,"r":13,"v":-0.4},{"c":26,"r":13,"v":-0.8},{"c":27,"r":13,"v":-0.4},{"c":28,"r":13,"v":-0.4},{"c":29,"r":13,"v":-0.8},{"c":30,"r":13,"v":-1},{"c":31,"r":13,"v":-0.6},{"c":32,"r":13,"v":-0.2},
{"c":1,"r":14,"v":1.1},{"c":2,"r":14,"v":1.2},{"c":3,"r":14,"v":1},{"c":4,"r":14,"v":1.4},{"c":5,"r":14,"v":1.3},{"c":6,"r":14,"v":0.5},{"c":7,"r":14,"v":0.5},{"c":8,"r":14,"v":0.2},{"c":9,"r":14,"v":0},{"c":10,"r":14,"v":-0.2},{"c":11,"r":14,"v":-0.1},{"c":12,"r":14,"v":-0.2},{"c":13,"r":14,"v":-0.2},{"c":14,"r":14,"v":-0.6},{"c":15,"r":14,"v":-0.3},{"c":16,"r":14,"v":-0.4},{"c":17,"r":14,"v":-0.1},{"c":18,"r":14,"v":-0.2},{"c":19,"r":14,"v":-0.2},{"c":20,"r":14,"v":-0.3},{"c":21,"r":14,"v":-0.7},{"c":22,"r":14,"v":-0.5},{"c":23,"r":14,"v":-0.2},{"c":24,"r":14,"v":-0.2},{"c":25,"r":14,"v":-0.3},{"c":26,"r":14,"v":-0.7},{"c":27,"r":14,"v":-0.3},{"c":28,"r":14,"v":-0.5},{"c":29,"r":14,"v":-0.9},{"c":30,"r":14,"v":-0.9},{"c":31,"r":14,"v":-0.4},{"c":32,"r":14,"v":-0.3},
{"c":1,"r":15,"v":0.9},{"c":2,"r":15,"v":1.1},{"c":3,"r":15,"v":0.9},{"c":4,"r":15,"v":1.3},{"c":5,"r":15,"v":1.2},{"c":6,"r":15,"v":0.6},{"c":7,"r":15,"v":0.4},{"c":8,"r":15,"v":0.3},{"c":9,"r":15,"v":0.1},{"c":10,"r":15,"v":-0.1},{"c":11,"r":15,"v":-0.1},{"c":12,"r":15,"v":-0.3},{"c":13,"r":15,"v":-0.3},{"c":14,"r":15,"v":-0.5},{"c":15,"r":15,"v":-0.3},{"c":16,"r":15,"v":-0.3},{"c":17,"r":15,"v":-0.2},{"c":18,"r":15,"v":-0.2},{"c":19,"r":15,"v":0},{"c":20,"r":15,"v":-0.2},{"c":21,"r":15,"v":-0.5},{"c":22,"r":15,"v":-0.4},{"c":23,"r":15,"v":-0.1},{"c":24,"r":15,"v":-0.3},{"c":25,"r":15,"v":-0.2},{"c":26,"r":15,"v":-0.6},{"c":27,"r":15,"v":-0.2},{"c":28,"r":15,"v":-0.3},{"c":29,"r":15,"v":-0.7},{"c":30,"r":15,"v":-0.8},{"c":31,"r":15,"v":-0.4},{"c":32,"r":15,"v":-0.2},
{"c":1,"r":16,"v":0.6},{"c":2,"r":16,"v":0.8},{"c":3,"r":16,"v":0.7},{"c":4,"r":16,"v":1},{"c":5,"r":16,"v":0.9},{"c":6,"r":16,"v":0.5},{"c":7,"r":16,"v":0.6},{"c":8,"r":16,"v":0.2},{"c":9,"r":16,"v":0.2},{"c":10,"r":16,"v":-0.1},{"c":11,"r":16,"v":0},{"c":12,"r":16,"v":-0.2},{"c":13,"r":16,"v":-0.1},{"c":14,"r":16,"v":-0.3},{"c":15,"r":16,"v":-0.2},{"c":16,"r":16,"v":-0.2},{"c":17,"r":16,"v":0.1},{"c":18,"r":16,"v":-0.2},{"c":19,"r":16,"v":-0.1},{"c":20,"r":16,"v":-0.1},{"c":21,"r":16,"v":-0.4},{"c":22,"r":16,"v":-0.3},{"c":23,"r":16,"v":-0.1},{"c":24,"r":16,"v":-0.2},{"c":25,"r":16,"v":0.1},{"c":26,"r":16,"v":-0.4},{"c":27,"r":16,"v":-0.1},{"c":28,"r":16,"v":-0.2},{"c":29,"r":16,"v":-0.4},{"c":30,"r":16,"v":-0.5},{"c":31,"r":16,"v":-0.2},{"c":32,"r":16,"v":0.1},
{"c":1,"r":17,"v":0.5},{"c":2,"r":17,"v":0.6},{"c":3,"r":17,"v":0.4},{"c":4,"r":17,"v":0.8},{"c":5,"r":17,"v":0.7},{"c":6,"r":17,"v":0.4},{"c":7,"r":17,"v":0.3},{"c":8,"r":17,"v":0.3},{"c":9,"r":17,"v":0},{"c":10,"r":17,"v":0.2},{"c":11,"r":17,"v":-0.1},{"c":12,"r":17,"v":-0.1},{"c":13,"r":17,"v":0},{"c":14,"r":17,"v":-0.2},{"c":15,"r":17,"v":-0.1},{"c":16,"r":17,"v":-0.1},{"c":17,"r":17,"v":0.2},{"c":18,"r":17,"v":0},{"c":19,"r":17,"v":-0.1},{"c":20,"r":17,"v":-0.2},{"c":21,"r":17,"v":-0.2},{"c":22,"r":17,"v":-0.2},{"c":23,"r":17,"v":0.1},{"c":24,"r":17,"v":-0.1},{"c":25,"r":17,"v":0.2},{"c":26,"r":17,"v":-0.2},{"c":27,"r":17,"v":0.1},{"c":28,"r":17,"v":0},{"c":29,"r":17,"v":-0.2},{"c":30,"r":17,"v":-0.3},{"c":31,"r":17,"v":0.2},{"c":32,"r":17,"v":0.2}
]},"mark":{"type":"rect","width":16.9,"height":30.8},"encoding":{"x":{"field":"c","type":"quantitative","scale":{"domain":[-0.882,32.5],"nice":false,"zero":false},"axis":null},"y":{"field":"r","type":"quantitative","scale":{"domain":[17.5,-0.288],"nice":false,"zero":false},"axis":null},"color":{"field":"v","type":"quantitative","scale":{"domain":[-2,0,2],"range":["#3A7CB3","#FFFFFF","#CD3A36"],"interpolate":"rgb"},"legend":{"title":null,"orient":"none","legendX":566,"legendY":24,"gradientLength":320,"gradientThickness":21,"values":[-2,-1,0,1,2],"format":"d","labelFontSize":17,"labelOffset":8}}}},
{"data":{"values":[{"k":"normal","a":0.5,"b":5.55,"p":-0.288,"q":0.284},{"k":"RA","a":5.55,"b":32.5,"p":-0.288,"q":0.284}]},"mark":{"type":"rect"},"encoding":{"x":{"field":"a","type":"quantitative","axis":null},"x2":{"field":"b"},"y":{"field":"p","type":"quantitative","axis":null},"y2":{"field":"q"},"color":{"field":"k","type":"nominal","scale":{"domain":["RA","normal"],"range":["#FC8888","#AED6F7"]},"legend":{"title":"SampleType","titleFontWeight":"bold","titleFontSize":17,"labelFontSize":17,"orient":"none","legendX":617,"legendY":23,"symbolType":"square","symbolSize":625,"symbolStrokeWidth":0,"rowPadding":0,"labelOffset":5,"titlePadding":3}}}},
{"data":{"values":[{"k":"Up","a":-0.882,"b":0.139,"p":0.5,"q":6.38},{"k":"Down","a":-0.882,"b":0.139,"p":6.38,"q":17.5}]},"mark":{"type":"rect"},"encoding":{"x":{"field":"a","type":"quantitative","axis":null},"x2":{"field":"b"},"y":{"field":"p","type":"quantitative","axis":null},"y2":{"field":"q"},"color":{"field":"k","type":"nominal","scale":{"domain":["Up","Down"],"range":["#FFAEAE","#9CD8C0"]},"legend":{"title":"DEG","titleFontWeight":"bold","titleFontSize":17,"labelFontSize":17,"orient":"none","legendX":617,"legendY":108,"symbolType":"square","symbolSize":625,"symbolStrokeWidth":0,"rowPadding":0,"labelOffset":5,"titlePadding":3}}}},
{"data":{"values":[{"c":32.83,"r":-0.01,"t":"SampleType"}]},"mark":{"type":"text","fontSize":17,"fontWeight":"bold","align":"left","baseline":"middle","color":"#000"},"encoding":{"x":{"field":"c","type":"quantitative","axis":null},"y":{"field":"r","type":"quantitative","axis":null},"text":{"field":"t"}}},
{"data":{"values":[{"c":-0.4,"r":18.3,"t":"DEG"}]},"mark":{"type":"text","fontSize":17,"fontWeight":"bold","angle":270,"align":"center","baseline":"middle","color":"#000"},"encoding":{"x":{"field":"c","type":"quantitative","axis":null},"y":{"field":"r","type":"quantitative","axis":null},"text":{"field":"t"}}},
{"data":{"values":[{"c":-0.882,"r":-0.288,"t":"B"}]},"mark":{"type":"text","fontSize":83,"align":"left","baseline":"alphabetic","dx":-145,"dy":31.5,"color":"#000"},"encoding":{"x":{"field":"c","type":"quantitative","axis":null},"y":{"field":"r","type":"quantitative","axis":null},"text":{"field":"t"}}}
]},
{"width":366.5,"height":1,"data":{"values":[{"a":0}]},"mark":{"type":"point","opacity":0,"size":0}},
{"width":730,"height":560,"layer":[
{"data":{"values":[{"x":224,"y":315.5}]},"mark":{"type":"point","filled":true,"size":175561,"fill":"#9CDFCB","fillOpacity":1,"stroke":"#4F6F73","strokeWidth":1,"opacity":1},"encoding":{"x":{"field":"x","type":"quantitative","scale":{"domain":[0,730],"nice":false,"zero":false},"axis":null},"y":{"field":"y","type":"quantitative","scale":{"domain":[560,0],"nice":false,"zero":false},"axis":null}}},
{"data":{"values":[{"x":503.5,"y":315.5}]},"mark":{"type":"point","filled":true,"size":175561,"fill":"#2B8BDD","fillOpacity":0.5,"stroke":"#4F6F73","strokeWidth":1,"opacity":1},"encoding":{"x":{"field":"x","type":"quantitative","axis":null},"y":{"field":"y","type":"quantitative","axis":null}}},
{"data":{"values":[{"x":196,"y":53.5,"t":"TRGs"},{"x":531,"y":53.5,"t":"DEGs"}]},"mark":{"type":"text","fontSize":29,"color":"#111","baseline":"middle"},"encoding":{"x":{"field":"x","type":"quantitative","axis":null},"y":{"field":"y","type":"quantitative","axis":null},"text":{"field":"t"}}},
{"data":{"values":[{"x":196,"y":298.5,"t":"1548"},{"x":196,"y":334.5,"t":"(20.7%)"},{"x":363.6,"y":298.5,"t":"538"},{"x":363.6,"y":334.5,"t":"(7.2%)"},{"x":531,"y":298.5,"t":"5386"},{"x":531,"y":334.5,"t":"(72.1%)"}]},"mark":{"type":"text","fontSize":23,"color":"#111","baseline":"middle"},"encoding":{"x":{"field":"x","type":"quantitative","axis":null},"y":{"field":"y","type":"quantitative","axis":null},"text":{"field":"t"}}},
{"data":{"values":[{"x":0,"y":0,"t":"C"}]},"mark":{"type":"text","fontSize":83,"align":"left","baseline":"alphabetic","dx":-93,"dy":31.5,"color":"#000"},"encoding":{"x":{"field":"x","type":"quantitative","axis":null},"y":{"field":"y","type":"quantitative","axis":null},"text":{"field":"t"}}}
]}
]},
{"width":1,"height":877.2,"data":{"values":[{"a":0}]},"mark":{"type":"point","opacity":0,"size":0}},
{"bounds":"flush","spacing":0,"resolve":{"scale":{"color":"independent","size":"independent"},"legend":{"color":"independent","size":"independent"}},"hconcat":[
{"width":394,"height":1,"data":{"values":[{"a":0}]},"mark":{"type":"point","opacity":0,"size":0}},
{"width":331,"height":496,"view":{"stroke":"#222","strokeWidth":1.5},"title":{"text":"Molecular Function","anchor":"start","frame":"group","fontSize":27.5,"fontWeight":"normal","color":"#111","offset":-60},"layer":[
{"data":{"values":[{"m":15},{"m":25},{"m":35},{"m":45}]},"mark":{"type":"rule","color":"#EBEBEB","strokeWidth":1},"encoding":{"x":{"field":"m","type":"quantitative"}}},
{"data":{"values":[{"Description":"DNA nuclease activity","Count":12,"padj":9.4e-6},{"Description":"DNA secondary structure binding","Count":10,"padj":8e-6},{"Description":"ATP hydrolysis activity","Count":34,"padj":3.5e-6},{"Description":"transcription coregulator binding","Count":17,"padj":1.8e-6},{"Description":"DNA polymerase binding","Count":9,"padj":1.4e-6},{"Description":"DNA−binding transcription factor binding","Count":40,"padj":7e-7},{"Description":"histone modifying activity","Count":29,"padj":6e-7},{"Description":"protein serine/threonine kinase activity","Count":44,"padj":3e-7},{"Description":"catalytic activity, acting on DNA","Count":34,"padj":2e-7},{"Description":"protein serine kinase activity","Count":43,"padj":6e-8}]},"mark":{"type":"point","filled":true,"opacity":1,"stroke":"#111"},"encoding":{"x":{"field":"Count","type":"quantitative","scale":{"domain":[7.33,45.73],"nice":false,"zero":false},"axis":{"values":[10,20,30,40],"grid":true,"gridColor":"#EBEBEB","gridWidth":2,"title":"Count"}},"y":{"field":"Description","type":"nominal","sort":null,"scale":{"type":"point","padding":0.6,"domain":["DNA nuclease activity","DNA secondary structure binding","ATP hydrolysis activity","transcription coregulator binding","DNA polymerase binding","DNA−binding transcription factor binding","histone modifying activity","protein serine/threonine kinase activity","catalytic activity, acting on DNA","protein serine kinase activity"]},"axis":{"title":"Description","titleX":-363,"grid":true,"gridColor":"#EBEBEB","gridWidth":2}},"size":{"field":"Count","type":"quantitative","scale":{"domain":[9,44],"range":[100,841],"zero":false},"legend":null},"color":{"field":"padj","type":"quantitative","scale":{"domain":[6e-8,9.44e-6],"range":["#7B7BD6","#8FE8DF"],"interpolate":"rgb"},"legend":{"title":"p.adjust","orient":"none","legendX":367,"legendY":139,"gradientLength":184,"gradientThickness":37,"values":[2.5e-6,5e-6,7.5e-6],"labelOffset":11,"labelExpr":"replace(format(datum.value,'.1e'),'e-','e−0')","titlePadding":8}},"strokeWidth":{"condition":{"test":"datum.Count==9","value":1.5},"value":0}}},
{"data":{"values":[{"t":"D"}]},"mark":{"type":"text","fontSize":83,"align":"left","baseline":"alphabetic","dx":-383,"dy":-37,"color":"#000"},"encoding":{"x":{"datum":7.33,"type":"quantitative"},"y":{"datum":"DNA nuclease activity","type":"nominal"},"text":{"field":"t"}}}
]},
{"width":568.7,"height":1,"data":{"values":[{"a":0}]},"mark":{"type":"point","opacity":0,"size":0}},
{"width":330,"height":496,"view":{"stroke":"#222","strokeWidth":1.5},"title":{"text":"Celluar Component","anchor":"start","frame":"group","fontSize":27.5,"fontWeight":"normal","color":"#111","offset":-60},"layer":[
{"data":{"values":[{"m":15},{"m":25},{"m":35},{"m":45}]},"mark":{"type":"rule","color":"#EBEBEB","strokeWidth":1},"encoding":{"x":{"field":"m","type":"quantitative"}}},
{"data":{"values":[{"Description":"heterochromatin","Count":12,"padj":5.6e-5},{"Description":"chromosome, centromeric region","Count":23,"padj":2.7e-5},{"Description":"condensed chromosome","Count":25,"padj":1.5e-5},{"Description":"cyclin−dependent protein kinase\nholoenzyme complex","Count":11,"padj":1.3e-5},{"Description":"nuclear matrix","Count":19,"padj":6e-6},{"Description":"nuclear periphery","Count":21,"padj":5e-6},{"Description":"spindle","Count":38,"padj":3e-6},{"Description":"nuclear chromosome","Count":27,"padj":2e-6},{"Description":"chromosome, telomeric region","Count":31,"padj":1e-6},{"Description":"chromosomal region","Count":52,"padj":6e-8}]},"mark":{"type":"point","filled":true,"opacity":1,"stroke":"#111"},"encoding":{"x":{"field":"Count","type":"quantitative","scale":{"domain":[9.06,53.98],"nice":false,"zero":false},"axis":{"values":[10,20,30,40,50],"grid":true,"gridColor":"#EBEBEB","gridWidth":2,"title":"Count"}},"y":{"field":"Description","type":"nominal","sort":null,"scale":{"type":"point","padding":0.6,"domain":["heterochromatin","chromosome, centromeric region","condensed chromosome","cyclin−dependent protein kinase\nholoenzyme complex","nuclear matrix","nuclear periphery","spindle","nuclear chromosome","chromosome, telomeric region","chromosomal region"]},"axis":{"title":"Description","titleX":-300.7,"grid":true,"gridColor":"#EBEBEB","gridWidth":2,"labelExpr":"split(datum.label,'\\n')","labelOffset":{"condition":{"test":"indexof(datum.label,'\\n')>=0","value":-10.5},"value":0}}},"size":{"field":"Count","type":"quantitative","scale":{"domain":[11,52],"range":[81,841],"zero":false},"legend":null},"color":{"field":"padj","type":"quantitative","scale":{"domain":[6e-8,5.61e-5],"range":["#7B7BD6","#8FE8DF"],"interpolate":"rgb"},"legend":{"title":"p.adjust","orient":"none","legendX":366,"legendY":139,"gradientLength":184,"gradientThickness":37,"values":[1e-5,2e-5,3e-5,4e-5,5e-5],"labelOffset":11,"labelExpr":"replace(format(datum.value,'.0e'),'e-','e−0')","titlePadding":8}},"strokeWidth":{"condition":{"test":"datum.Count==11","value":1.5},"value":0}}},
{"data":{"values":[{"t":"E"}]},"mark":{"type":"text","fontSize":83,"align":"left","baseline":"alphabetic","dx":-360,"dy":-37,"color":"#000"},"encoding":{"x":{"datum":9.06,"type":"quantitative"},"y":{"datum":"heterochromatin","type":"nominal"},"text":{"field":"t"}}}
]},
{"width":593.3,"height":1,"data":{"values":[{"a":0}]},"mark":{"type":"point","opacity":0,"size":0}},
{"bounds":"flush","spacing":0,"vconcat":[
{"width":1,"height":16.1,"data":{"values":[{"a":0}]},"mark":{"type":"point","opacity":0,"size":0}},
{"width":308,"height":463.6,"view":{"stroke":"#222","strokeWidth":1.5},"title":{"text":"Biological Process","anchor":"start","frame":"group","fontSize":27,"fontWeight":"normal","color":"#111","offset":-78},"layer":[
{"data":{"values":[{"m":37.5},{"m":42.5},{"m":47.5},{"m":52.5}]},"mark":{"type":"rule","color":"#EBEBEB","strokeWidth":1},"encoding":{"x":{"field":"m","type":"quantitative"}}},
{"data":{"values":[{"Description":"DNA biosynthetic process","Count":34,"padj":2.79e-15},{"Description":"negative regulation of cell cycle","Count":49,"padj":1.9e-15},{"Description":"double−strand break repair","Count":43,"padj":1e-15},{"Description":"regulation of cell cycle phase\ntransition","Count":53,"padj":5e-16},{"Description":"cell cycle checkpoint signaling","Count":36,"padj":3e-16},{"Description":"DNA replication","Count":43,"padj":2e-16},{"Description":"positive regulation of DNA metabolic\nprocess","Count":45,"padj":1.5e-16},{"Description":"regulation of chromosome organization","Count":44,"padj":1e-16},{"Description":"telomere maintenance","Count":37,"padj":5e-17},{"Description":"telomere organization","Count":40,"padj":7.2e-21}]},"mark":{"type":"point","filled":true,"opacity":1,"stroke":"#111"},"encoding":{"x":{"field":"Count","type":"quantitative","scale":{"domain":[33.11,53.9],"nice":false,"zero":false},"axis":{"values":[35,40,45,50],"grid":true,"gridColor":"#EBEBEB","gridWidth":2,"title":"Count"}},"y":{"field":"Description","type":"nominal","sort":null,"scale":{"type":"point","padding":0.6,"domain":["DNA biosynthetic process","negative regulation of cell cycle","double−strand break repair","regulation of cell cycle phase\ntransition","cell cycle checkpoint signaling","DNA replication","positive regulation of DNA metabolic\nprocess","regulation of chromosome organization","telomere maintenance","telomere organization"]},"axis":{"title":"Description","titleX":-352,"grid":true,"gridColor":"#EBEBEB","gridWidth":2,"labelExpr":"split(datum.label,'\\n')","labelOffset":{"condition":{"test":"indexof(datum.label,'\\n')>=0","value":-10.5},"value":0}}},"size":{"field":"Count","type":"quantitative","scale":{"domain":[34,53],"range":[100,784],"zero":false},"legend":null},"color":{"field":"padj","type":"quantitative","scale":{"domain":[7.162164e-21,2.792588e-15],"range":["#7B7BD6","#8FE8DF"],"interpolate":"rgb"},"legend":{"title":"p.adjust","orient":"none","legendX":345,"legendY":139,"gradientLength":182,"gradientThickness":37,"values":[7.162164e-21,6.981525e-16,1.396298e-15,2.094443e-15,2.792588e-15],"labelOffset":11,"labelExpr":"replace(format(datum.value,'.6e'),'e-','e−')","titlePadding":8}},"strokeWidth":{"condition":{"test":"datum.Count==34","value":1.5},"value":0}}},
{"data":{"values":[{"t":"F"}]},"mark":{"type":"text","fontSize":83,"align":"left","baseline":"alphabetic","dx":-306,"dy":-51,"color":"#000"},"encoding":{"x":{"datum":33.11,"type":"quantitative"},"y":{"datum":"DNA biosynthetic process","type":"nominal"},"text":{"field":"t"}}}
]}
]}
]},
{"width":1,"height":802.3,"data":{"values":[{"a":0}]},"mark":{"type":"point","opacity":0,"size":0}},
{"bounds":"flush","spacing":0,"resolve":{"scale":{"color":"independent","size":"independent"},"legend":{"color":"independent","size":"independent"}},"hconcat":[
{"width":410.4,"height":1,"data":{"values":[{"a":0}]},"mark":{"type":"point","opacity":0,"size":0}},
{"bounds":"flush","spacing":0,"vconcat":[
{"width":1,"height":43,"data":{"values":[{"a":0}]},"mark":{"type":"point","opacity":0,"size":0}},
{"width":331,"height":496,"view":{"stroke":"#222","strokeWidth":1.5},"title":{"text":"KEGG","anchor":"start","frame":"group","fontSize":27.5,"fontWeight":"normal","color":"#111","offset":-60},"layer":[
{"data":{"values":[{"m":7.5},{"m":12.5},{"m":17.5},{"m":22.5}]},"mark":{"type":"rule","color":"#EBEBEB","strokeWidth":1},"encoding":{"x":{"field":"m","type":"quantitative"}}},
{"data":{"values":[{"Description":"Base excision repair","Count":8,"padj":0.00298},{"Description":"Oocyte meiosis","Count":15,"padj":0.0027},{"Description":"GnRH signaling pathway","Count":12,"padj":0.0024},{"Description":"AGE−RAGE signaling pathway in diabetic\ncomplications","Count":13,"padj":0.0016},{"Description":"Hepatitis B","Count":18,"padj":0.0007},{"Description":"Lysine degradation","Count":11,"padj":0.0009},{"Description":"Homologous recombination","Count":10,"padj":0.0002},{"Description":"Cellular senescence","Count":20,"padj":0.0004},{"Description":"Fanconi anemia pathway","Count":14,"padj":0.0001},{"Description":"Cell cycle","Count":25,"padj":0.00002}]},"mark":{"type":"point","filled":true,"opacity":1,"stroke":"#111"},"encoding":{"x":{"field":"Count","type":"quantitative","scale":{"domain":[7.18,25.84],"nice":false,"zero":false},"axis":{"values":[10,15,20,25],"grid":true,"gridColor":"#EBEBEB","gridWidth":2,"title":"Count"}},"y":{"field":"Description","type":"nominal","sort":null,"scale":{"type":"point","padding":0.6,"domain":["Base excision repair","Oocyte meiosis","GnRH signaling pathway","AGE−RAGE signaling pathway in diabetic\ncomplications","Hepatitis B","Lysine degradation","Homologous recombination","Cellular senescence","Fanconi anemia pathway","Cell cycle"]},"axis":{"title":"Description","titleX":-373,"grid":true,"gridColor":"#EBEBEB","gridWidth":2,"labelExpr":"split(datum.label,'\\n')","labelOffset":{"condition":{"test":"indexof(datum.label,'\\n')>=0","value":-10.5},"value":0}}},"size":{"field":"Count","type":"quantitative","scale":{"domain":[8,25],"range":[100,841],"zero":false},"legend":null},"color":{"field":"padj","type":"quantitative","scale":{"domain":[0.00001,0.00298],"range":["#7B7BD6","#8FE8DF"],"interpolate":"rgb"},"legend":{"title":"p.adjust","orient":"none","legendX":366,"legendY":139,"gradientLength":184,"gradientThickness":37,"values":[0.001,0.002],"labelOffset":11,"format":".3f","titlePadding":8}},"strokeWidth":{"condition":{"test":"datum.Count==8","value":1.5},"value":0}}},
{"data":{"values":[{"t":"G"}]},"mark":{"type":"text","fontSize":83,"align":"left","baseline":"alphabetic","dx":-402,"dy":-36,"color":"#000"},"encoding":{"x":{"datum":7.18,"type":"quantitative"},"y":{"datum":"Base excision repair","type":"nominal"},"text":{"field":"t"}}}
]}
]},
{"width":663.6,"height":1,"data":{"values":[{"a":0}]},"mark":{"type":"point","opacity":0,"size":0}},
{"width":597,"height":600,"layer":[
{"data":{"values":[{"x":910,"y":820}]},"mark":{"type":"point","filled":true,"size":278784,"color":"#808080","opacity":1},"encoding":{"x":{"field":"x","type":"quantitative","scale":{"domain":[310,1510],"nice":false,"zero":false},"axis":null},"y":{"field":"y","type":"quantitative","scale":{"domain":[1555,85],"nice":false,"zero":false},"axis":null}}},
{"data":{"values":[{"x":1492,"y":820,"x2":1350,"y2":1016},{"x":1483,"y":944,"x2":1316,"y2":1107},{"x":1457,"y":1063,"x2":1269,"y2":1188},{"x":1414,"y":1177,"x2":1211,"y2":1259},{"x":1356,"y":1278,"x2":1144,"y2":1317},{"x":1284,"y":1366,"x2":1070,"y2":1359},{"x":1201,"y":1438,"x2":991,"y2":1385},{"x":1109,"y":1490,"x2":910,"y2":1393},{"x":1011,"y":1522,"x2":829,"y2":1385},{"x":910,"y":1533,"x2":750,"y2":1359},{"x":809,"y":1522,"x2":676,"y2":1317},{"x":711,"y":1490,"x2":609,"y2":1259},{"x":619,"y":1438,"x2":551,"y2":1188},{"x":536,"y":1366,"x2":504,"y2":1107},{"x":464,"y":1278,"x2":470,"y2":1016},{"x":406,"y":1177,"x2":449,"y2":920},{"x":363,"y":1063,"x2":442,"y2":820},{"x":337,"y":944,"x2":449,"y2":720},{"x":328,"y":820,"x2":470,"y2":624},{"x":337,"y":696,"x2":504,"y2":533},{"x":363,"y":577,"x2":551,"y2":452},{"x":406,"y":463,"x2":609,"y2":381},{"x":464,"y":362,"x2":676,"y2":323},{"x":536,"y":274,"x2":750,"y2":281},{"x":619,"y":202,"x2":829,"y2":255},{"x":711,"y":150,"x2":910,"y2":247},{"x":809,"y":118,"x2":991,"y2":255},{"x":910,"y":107,"x2":1070,"y2":281},{"x":1011,"y":118,"x2":1144,"y2":323},{"x":1109,"y":150,"x2":1211,"y2":381},{"x":1201,"y":202,"x2":1269,"y2":452},{"x":1284,"y":274,"x2":1316,"y2":533},{"x":1356,"y":362,"x2":1350,"y2":624},{"x":1414,"y":463,"x2":1371,"y2":720},{"x":1457,"y":577,"x2":1378,"y2":820},{"x":1483,"y":696,"x2":1371,"y2":920},
{"x":1492,"y":820,"x2":1316,"y2":533},{"x":1483,"y":944,"x2":1350,"y2":624},{"x":1457,"y":1063,"x2":1371,"y2":720},{"x":1414,"y":1177,"x2":1378,"y2":820},{"x":1356,"y":1278,"x2":1371,"y2":920},{"x":1284,"y":1366,"x2":1350,"y2":1016},{"x":1201,"y":1438,"x2":1316,"y2":1107},{"x":1109,"y":1490,"x2":1269,"y2":1188},{"x":1011,"y":1522,"x2":1211,"y2":1259},{"x":910,"y":1533,"x2":1144,"y2":1317},{"x":809,"y":1522,"x2":1070,"y2":1359},{"x":711,"y":1490,"x2":991,"y2":1385},{"x":619,"y":1438,"x2":910,"y2":1393},{"x":536,"y":1366,"x2":829,"y2":1385},{"x":464,"y":1278,"x2":750,"y2":1359},{"x":406,"y":1177,"x2":676,"y2":1317},{"x":363,"y":1063,"x2":609,"y2":1259},{"x":337,"y":944,"x2":551,"y2":1188},{"x":328,"y":820,"x2":504,"y2":1107},{"x":337,"y":696,"x2":470,"y2":1016},{"x":363,"y":577,"x2":449,"y2":920},{"x":406,"y":463,"x2":442,"y2":820},{"x":464,"y":362,"x2":449,"y2":720},{"x":536,"y":274,"x2":470,"y2":624},{"x":619,"y":202,"x2":504,"y2":533},{"x":711,"y":150,"x2":551,"y2":452},{"x":809,"y":118,"x2":609,"y2":381},{"x":910,"y":107,"x2":676,"y2":323},{"x":1011,"y":118,"x2":750,"y2":281},{"x":1109,"y":150,"x2":829,"y2":255},{"x":1201,"y":202,"x2":910,"y2":247},{"x":1284,"y":274,"x2":991,"y2":255},{"x":1356,"y":362,"x2":1070,"y2":281},{"x":1414,"y":463,"x2":1144,"y2":323},{"x":1457,"y":577,"x2":1211,"y2":381},{"x":1483,"y":696,"x2":1269,"y2":452},
{"x":1450,"y":820,"x2":1414,"y2":1177},{"x":1442,"y":935,"x2":1483,"y2":696},{"x":1418,"y":1046,"x2":1284,"y2":1366},{"x":1378,"y":1151,"x2":1483,"y2":944},{"x":1324,"y":1245,"x2":1109,"y2":1490},{"x":1257,"y":1327,"x2":1414,"y2":1177},{"x":1180,"y":1393,"x2":910,"y2":1533},{"x":1095,"y":1442,"x2":1284,"y2":1366},{"x":1004,"y":1472,"x2":711,"y2":1490},{"x":910,"y":1482,"x2":1109,"y2":1490},{"x":816,"y":1472,"x2":536,"y2":1366},{"x":725,"y":1442,"x2":910,"y2":1533},{"x":640,"y":1393,"x2":406,"y2":1177},{"x":563,"y":1327,"x2":711,"y2":1490},{"x":496,"y":1245,"x2":337,"y2":944},{"x":442,"y":1151,"x2":536,"y2":1366},{"x":402,"y":1046,"x2":337,"y2":696},{"x":378,"y":935,"x2":406,"y2":1177},{"x":370,"y":820,"x2":406,"y2":463},{"x":378,"y":705,"x2":337,"y2":944},{"x":402,"y":594,"x2":536,"y2":274},{"x":442,"y":489,"x2":337,"y2":696},{"x":496,"y":395,"x2":711,"y2":150},{"x":563,"y":313,"x2":406,"y2":463},{"x":640,"y":247,"x2":910,"y2":107},{"x":725,"y":198,"x2":536,"y2":274},{"x":816,"y":168,"x2":1109,"y2":150},{"x":910,"y":158,"x2":711,"y2":150},{"x":1004,"y":168,"x2":1284,"y2":274},{"x":1095,"y":198,"x2":910,"y2":107},{"x":1180,"y":247,"x2":1414,"y2":463},{"x":1257,"y":313,"x2":1109,"y2":150},{"x":1324,"y":395,"x2":1483,"y2":696},{"x":1378,"y":489,"x2":1284,"y2":274},{"x":1418,"y":594,"x2":1483,"y2":944},{"x":1442,"y":705,"x2":1414,"y2":463}]},"mark":{"type":"rule","color":"#7F7F7F","strokeWidth":3.5},"encoding":{"x":{"field":"x","type":"quantitative","axis":null},"y":{"field":"y","type":"quantitative","axis":null},"x2":{"field":"x2"},"y2":{"field":"y2"}}},
{"data":{"values":[{"x":910,"y":820}]},"mark":{"type":"point","filled":false,"size":352836,"stroke":"#BDD7EE","strokeWidth":4.5,"strokeDash":[0.01,7.5],"strokeCap":"round","opacity":1},"encoding":{"x":{"field":"x","type":"quantitative","axis":null},"y":{"field":"y","type":"quantitative","axis":null}}},
{"data":{"values":[{"x":910,"y":820}]},"mark":{"type":"point","filled":false,"size":352836,"stroke":"#FBDAD8","strokeWidth":4.5,"strokeDash":[0.01,52.5],"strokeCap":"round","opacity":1},"encoding":{"x":{"field":"x","type":"quantitative","axis":null},"y":{"field":"y","type":"quantitative","axis":null}}},
{"data":{"name":"nodes"},"mark":{"type":"point","filled":true,"opacity":1},"encoding":{"x":{"field":"x","type":"quantitative","axis":null},"y":{"field":"y","type":"quantitative","axis":null},"size":{"field":"d","type":"quantitative","scale":{"type":"pow","exponent":2,"domain":[0,100],"range":[0,10000]},"legend":null},"color":{"field":"g","type":"nominal","scale":{"domain":["Up","Down"],"range":["#FBDAD8","#BDD7EE"]},"legend":null}}},
{"data":{"name":"nodes"},"transform":[{"filter":"datum.t"}],"mark":{"type":"text","fontSize":18,"color":"#000","baseline":"middle"},"encoding":{"x":{"field":"x","type":"quantitative","axis":null},"y":{"field":"y","type":"quantitative","axis":null},"text":{"field":"t"}}},
{"data":{"values":[{"x":310,"y":85,"t":"H"}]},"mark":{"type":"text","fontSize":83,"align":"left","baseline":"alphabetic","dx":-140,"dy":35,"color":"#000"},"encoding":{"x":{"field":"x","type":"quantitative","axis":null},"y":{"field":"y","type":"quantitative","axis":null},"text":{"field":"t"}}}
]}
]}
]}
